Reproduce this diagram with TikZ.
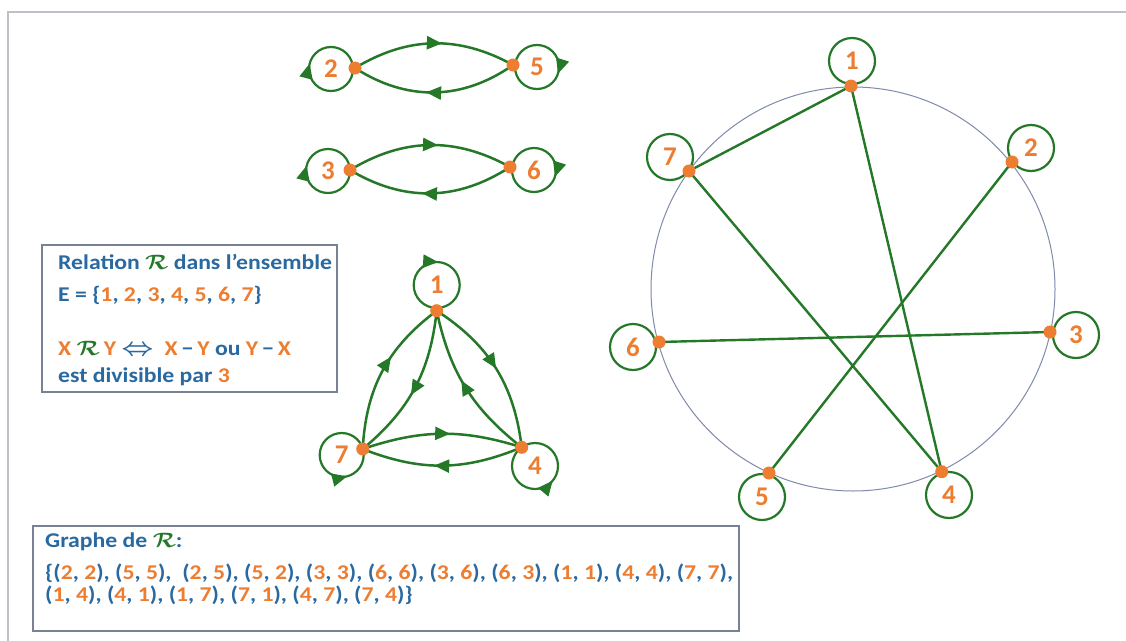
\documentclass[tikz,border=0pt]{standalone}
\usepackage{fontspec}
\setmainfont{Carlito}
\usepackage{graphicx}
\usetikzlibrary{arrows.meta,decorations.markings}
\definecolor{txtblue}{RGB}{41,105,160}
\definecolor{orng}{RGB}{237,125,49}
\definecolor{grn}{RGB}{36,120,40}
\definecolor{ringgray}{RGB}{128,138,170}
\definecolor{boxgray}{RGB}{120,130,148}
\definecolor{framegray}{RGB}{190,194,200}
\newcommand\orn[1]{{\color{orng}#1}}
\newcommand\scR{{\color{grn}$\mathcal{R}$}}
\newcommand\pr[2]{(\orn{#1}, \orn{#2})}
\newcommand\stretchtxt[1]{\scalebox{1.13}[1]{#1}}
\tikzset{
  edge/.style={draw=grn, line width=2.5pt},
  arr/.style={postaction={decorate}, decoration={markings, mark=at position #1 with {\arrow[grn]{Triangle[length=15pt,width=13pt]}}}},
  rarr/.style={postaction={decorate}, decoration={markings, mark=at position #1 with {\arrowreversed[grn]{Triangle[length=15pt,width=13pt]}}}},
  dot/.style={circle, fill=orng, inner sep=0pt, minimum size=13pt},
  num/.style={font=\fontsize{27}{30}\selectfont\bfseries, text=orng, inner sep=0pt},
  ring/.style={draw=grn, line width=2.2pt},
  chord/.style={draw=grn, line width=2.4pt},
  txt/.style={font=\fontsize{21}{25}\selectfont\bfseries\boldmath, text=txtblue, inner sep=0pt, anchor=west},
  panel/.style={draw=boxgray, line width=1.5pt},
}
\begin{document}
\begin{tikzpicture}[x=1pt,y=-1pt]
\useasboundingbox (0,0) rectangle (1126,640);
\fill[white] (0,0) rectangle (1126,640);
\draw[draw=framegray, line width=2pt] (1140,12) -- (8,12) -- (8,660);

% ---------- pair 2-5 ----------
\coordinate (p2) at (355,68);
\coordinate (p5) at (513,65);
\draw[edge, arr=0.55] (p2) to[bend left=30] (p5);
\draw[edge, arr=0.55] (p5) to[bend left=34] (p2);
\node[num] (n2) at (331,69) {2};
\node[num] (n5) at (537,67) {5};
\draw[ring, arr=0.54] (n2.center) circle[radius=22];
\draw[ring, arr=0.05] (n5.center) circle[radius=22];
\node[dot] at (p2) {};
\node[dot] at (p5) {};

% ---------- pair 3-6 ----------
\coordinate (p3) at (350,170);
\coordinate (p6) at (510,167);
\draw[edge, arr=0.55] (p3) to[bend left=30] (p6);
\draw[edge, arr=0.55] (p6) to[bend left=32] (p3);
\node[num] (n3) at (328,171) {3};
\node[num] (n6) at (534,170) {6};
\draw[ring, arr=0.54] (n3.center) circle[radius=22];
\draw[ring, arr=0.05] (n6.center) circle[radius=22];
\node[dot] at (p3) {};
\node[dot] at (p6) {};

% ---------- triangle 1-4-7 ----------
\coordinate (t1) at (436.7,310.7);
\coordinate (t7) at (362.7,449);
\coordinate (t4) at (521.7,447.3);
\draw[edge, arr=0.5] (t1) to[bend left=25] (t4);
\draw[edge, arr=0.55] (t4) to[bend left=20] (t1);
\draw[edge, arr=0.6] (t7) to[bend left=25] (t1);
\draw[edge, arr=0.55] (t1) to[bend left=22] (t7);
\draw[edge, arr=0.55] (t7) to[bend left=18] (t4);
\draw[edge, arr=0.55] (t4) to[bend left=22] (t7);
\node[num] (n1) at (436.7,285) {1};
\node[num] (n7) at (341.7,455) {7};
\node[num] (n4) at (535,466) {4};
\draw[ring, arr=0.76] (n1.center) circle[radius=23];
\draw[ring, rarr=0.21] (n7.center) circle[radius=22];
\draw[ring, rarr=0.11] (n4.center) circle[radius=23];
\node[dot] at (t1) {};
\node[dot] at (t7) {};
\node[dot] at (t4) {};

% ---------- big circle graph ----------
\coordinate (gc) at (853,289);
\draw[draw=ringgray, line width=1pt] (gc) circle[radius=202];
\coordinate (g1) at (851,86);
\coordinate (g2) at (1012,162);
\coordinate (g3) at (1050,332);
\coordinate (g4) at (941.7,471.7);
\coordinate (g5) at (769,473);
\coordinate (g6) at (659,342);
\coordinate (g7) at (689,171);
\draw[chord] (g1) -- (g7);
\draw[chord] (g1) -- (g4);
\draw[chord] (g7) -- (g4);
\draw[chord] (g2) -- (g5);
\draw[chord] (g3) -- (g6);
\node[num] (m1) at (852,61) {1};
\node[num] (m2) at (1031,148) {2};
\node[num] (m3) at (1076,335) {3};
\node[num] (m4) at (949,495) {4};
\node[num] (m5) at (762,497) {5};
\node[num] (m6) at (633,347) {6};
\node[num] (m7) at (670,157) {7};
\foreach \m in {m1,m2,m3,m4,m5,m6,m7}{\draw[ring] (\m.center) circle[radius=23];}
\foreach \g in {g1,g2,g3,g4,g5,g6,g7}{\node[dot] at (\g) {};}

% ---------- text panels ----------
\draw[panel] (42,245) rectangle (337,392);
\node[txt] (r1) at (58,262) {\stretchtxt{Relation \scR\ dans l’ensemble}};
\node[txt] (r2) at (58,295) {\stretchtxt{E = \{\orn{1}, \orn{2}, \orn{3}, \orn{4}, \orn{5}, \orn{6}, \orn{7}\}}};
\node[txt] (r3) at (58,348) {\stretchtxt{\orn{X} \scR\,\orn{Y} \scalebox{1.2}{$\Leftrightarrow$}\ \ \orn{X}\,−\,\orn{Y} ou \orn{Y}\,−\,\orn{X}}};
\node[txt] (r4) at (58,377) {\stretchtxt{est divisible par \orn{3}}};

\draw[panel] (33,526) rectangle (739,631);
\node[txt] (s1) at (45,542) {\stretchtxt{Graphe de \scR:}};
\node[txt] (s2) at (45,573) {\stretchtxt{\{\pr22, \pr55,\ \ \pr25, \pr52, \pr33, \pr66, \pr36, \pr63, \pr11, \pr44, \pr77,}};
\node[txt] (s3) at (45,595) {\stretchtxt{\pr14, \pr41, \pr17, \pr71, \pr47, \pr74\}}};
\end{tikzpicture}
\end{document}
